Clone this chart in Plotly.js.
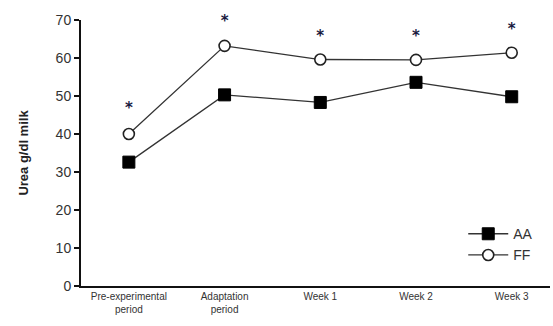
<!DOCTYPE html>
<html>
<head>
<meta charset="utf-8">
<script src="https://cdn.plot.ly/plotly-3.0.1.min.js"></script>
<style>html,body{margin:0;padding:0;background:#fff;}#chart{width:553px;height:326px;}</style>
</head>
<body>
<div id="chart"></div>
<script>
var categories = ["Pre-experimental<br>period", "Adaptation<br>period", "Week 1", "Week 2", "Week 3"];
var aaValues = [32.6, 50.3, 48.3, 53.6, 49.8];
var ffValues = [40.0, 63.2, 59.6, 59.5, 61.4];
var starValues = [46.5, 69.5, 65.5, 65.5, 67.2];
var starLabels = ["*", "*", "*", "*", "*"];
var yTicks = [0, 10, 20, 30, 40, 50, 60, 70];

var idx = categories.map(function(_, i){ return i; });

var traces = [
  {
    x: idx, y: aaValues, name: "AA", type: "scatter", mode: "lines+markers",
    line: {color: "#333", width: 1.3},
    marker: {symbol: "square", size: 12, color: "#000", line: {color: "#000", width: 1}}
  },
  {
    x: idx, y: ffValues, name: "FF", type: "scatter", mode: "lines+markers",
    line: {color: "#333", width: 1.3},
    marker: {symbol: "circle", size: 11, color: "#fff", line: {color: "#222", width: 1.6}}
  },
  {
    x: idx, y: starValues, type: "scatter", mode: "text", text: starLabels,
    textposition: "middle center", showlegend: false, cliponaxis: false, hoverinfo: "skip",
    textfont: {family: "DejaVu Sans, sans-serif", size: 15, color: "#1a1a40", weight: "bold"}
  }
];

var layout = {
  width: 553, height: 326,
  margin: {l: 81, r: 3, t: 20, b: 40},
  paper_bgcolor: "#fff", plot_bgcolor: "#fff",
  font: {family: "Liberation Sans, Arial, sans-serif", color: "#333"},
  xaxis: {
    range: [-0.5, 4.4], tickmode: "array", tickvals: idx, ticktext: categories,
    showline: true, linecolor: "#111", linewidth: 2, ticks: "", showgrid: false, zeroline: false,
    tickfont: {size: 10, color: "#333"}, fixedrange: true
  },
  yaxis: {
    range: [0, 70], tickmode: "array", tickvals: yTicks,
    showline: true, linecolor: "#111", linewidth: 2, ticks: "outside", ticklen: 5, tickwidth: 1.5, tickcolor: "#111",
    showgrid: false, zeroline: false, tickfont: {size: 14, color: "#333"},
    title: {text: "<b>Urea g/dl milk</b>", font: {size: 13, color: "#222"}, standoff: 24}
  },
  legend: {
    x: 0.815, y: 0.255, xanchor: "left", yanchor: "top",
    bgcolor: "rgba(0,0,0,0)", font: {size: 14, color: "#333"},
    itemwidth: 40, tracegroupgap: 0
  },
  showlegend: true
};

Plotly.newPlot("chart", traces, layout, {displayModeBar: false, staticPlot: true});
</script>
</body>
</html>
